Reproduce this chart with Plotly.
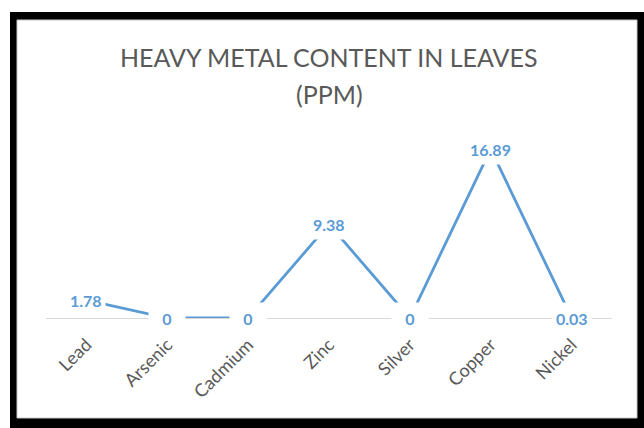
import plotly.graph_objects as go

metals = ["Lead", "Arsenic", "Cadmium", "Zinc", "Silver", "Copper", "Nickel"]
ppm = [1.78, 0, 0, 9.38, 0, 16.89, 0.03]
labels = ["1.78", "0", "0", "9.38", "0", "16.89", "0.03"]
title_lines = ["HEAVY METAL CONTENT IN LEAVES", "(PPM)"]

BLUE = "#5B9BD5"
GRAY = "#595959"
W, H = 644, 428
L, R, T, B = 46, 32, 138, 110
PW, PH = W - L - R, H - T - B

def px(x):
    return (x - L) / PW

def py(y):
    return (H - B - y) / PH

fig = go.Figure()
fig.add_trace(go.Scatter(
    x=metals, y=ppm, mode="lines",
    line=dict(color=BLUE, width=2.8),
    hoverinfo="skip", cliponaxis=False,
))

annotations = []
for m, v, t in zip(metals, ppm, labels):
    annotations.append(dict(
        x=m, y=v, xref="x", yref="y", text="<b>%s</b>" % t, showarrow=False,
        font=dict(family="Lato", size=16, color=BLUE),
        bgcolor="white", borderpad=3,
        width=30 if t == "0" else None, height=24,
        xanchor="center", yanchor="middle",
    ))
annotations.append(dict(
    x=0.5, y=py(57), xref="paper", yref="paper", text=title_lines[0], showarrow=False,
    font=dict(family="Lato", size=25, color=GRAY), xanchor="center", yanchor="middle"))
annotations.append(dict(
    x=0.5, y=py(94), xref="paper", yref="paper", text=title_lines[1], showarrow=False,
    font=dict(family="Lato", size=25, color=GRAY), xanchor="center", yanchor="middle"))

shapes = [
    dict(type="rect", xref="paper", yref="paper", layer="below",
         x0=px(10), x1=px(660), y0=py(440), y1=py(12),
         fillcolor="black", line=dict(width=0)),
    dict(type="rect", xref="paper", yref="paper", layer="below",
         x0=px(17), x1=px(637), y0=py(418), y1=py(20),
         fillcolor="white", line=dict(color="#c8c8c8", width=1)),
]

fig.update_layout(
    width=W, height=H,
    margin=dict(l=L, r=R, t=T, b=B, pad=0),
    paper_bgcolor="white", plot_bgcolor="rgba(0,0,0,0)",
    showlegend=False,
    annotations=annotations, shapes=shapes,
    xaxis=dict(
        type="category", categoryorder="array", categoryarray=metals,
        range=[-0.5, 6.5], showgrid=False, zeroline=False,
        showline=True, linecolor="#d9d9d9", linewidth=1.2,
        ticks="", tickangle=-45,
        tickfont=dict(family="Lato", size=18, color=GRAY),
        ticklabelstandoff=8,
    ),
    yaxis=dict(range=[0, 18], visible=False, fixedrange=True),
)

fig.write_html(
    "out.html",
    config={"displayModeBar": False, "staticPlot": True},
    post_script="document.body.style.margin='0';document.body.style.overflow='hidden';",
)
